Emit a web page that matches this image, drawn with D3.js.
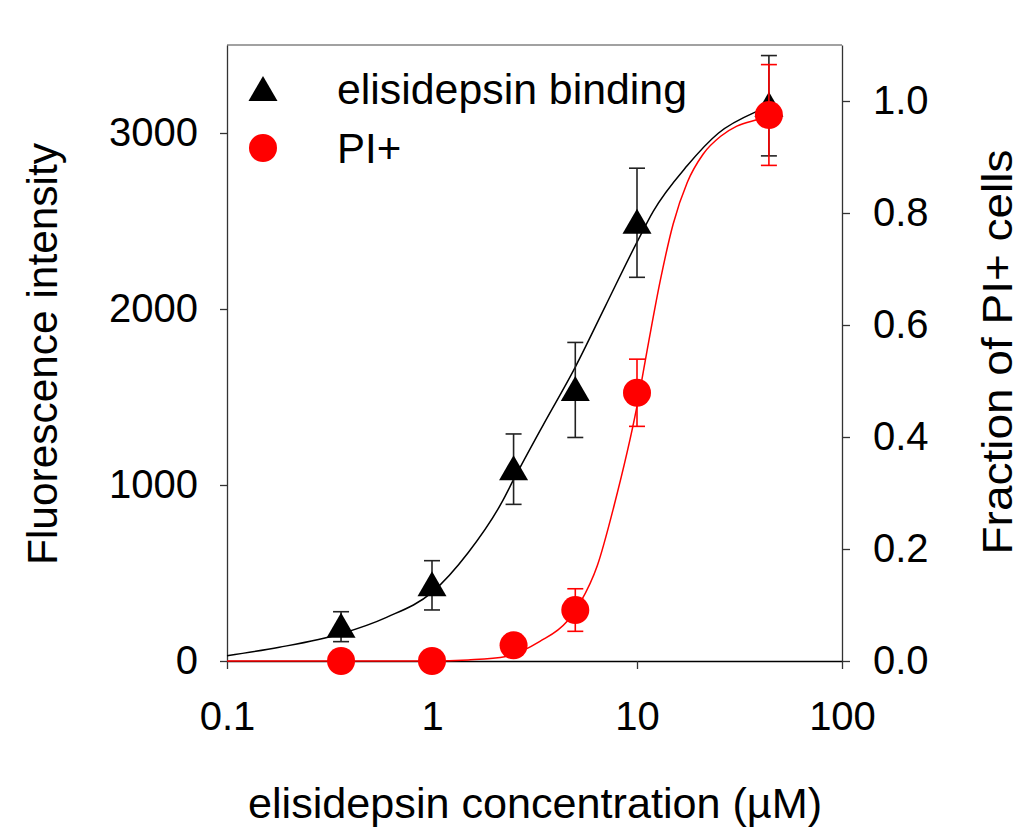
<!DOCTYPE html>
<html>
<head>
<meta charset="utf-8">
<script src="https://cdn.jsdelivr.net/npm/d3@7"></script>
<style>
  html, body { margin: 0; padding: 0; background: #ffffff; }
  svg { display: block; }
  text { font-family: "Liberation Sans", Arial, sans-serif; fill: #000; }
</style>
</head>
<body>
<svg id="chart" width="1024" height="832"></svg>
<script>
// ---- data ----
const concentrations = [0.36, 1, 2.5, 5, 10, 44];
const bindingMean = [195, 430, 1090, 1540, 2490, 3155];
const bindingErr = [85, 140, 200, 270, 310, 285];
const piFraction = [0, 0, 0.028, 0.091, 0.479, 0.975];
const piErr = [0, 0, 0, 0.038, 0.06, 0.09];

// fitted curves
const bindingFitX = [0.1, 0.18, 0.36, 0.6, 1.0, 1.5, 2.2, 2.5, 3.5, 5, 7, 10, 12, 17.6, 25, 38, 44];
const bindingFitY = [30, 78, 155, 248, 390, 615, 905, 1030, 1345, 1670, 2015, 2380, 2555, 2815, 3000, 3120, 3150];
const piFitX = [0.1, 1.0, 1.5, 2.3, 3.36, 4.54, 5.3, 6.4, 7.7, 10, 11.4, 13, 15, 17.6, 21, 25.6, 30.7, 38, 44];
const piFitY = [0, 0, 0.002, 0.008, 0.035, 0.07, 0.105, 0.17, 0.275, 0.455, 0.57, 0.68, 0.78, 0.855, 0.905, 0.937, 0.955, 0.966, 0.972];

const xTicks = [0.1, 1, 10, 100];
const xTickLabels = ["0.1", "1", "10", "100"];
const leftTicks = [0, 1000, 2000, 3000];
const rightTicks = [0, 0.2, 0.4, 0.6, 0.8, 1.0];

const xTitle = "elisidepsin concentration (µM)";
const leftTitle = "Fluorescence intensity";
const rightTitle = "Fraction of PI+ cells";
const legendLabels = ["elisidepsin binding", "PI+"];

// ---- layout ----
const L = 227, R = 842, T = 45, B = 661;
const FS = 42, TFS = 40;

const svg = d3.select("#chart");
const x = d3.scaleLog().domain([0.1, 100]).range([L, R]);
const yL = d3.scaleLinear().domain([0, 3500]).range([B, T]);
const yR = d3.scaleLinear().domain([0, 1.1]).range([B, T]);

// frame (top)
svg.append("line").attr("x1", L).attr("x2", R).attr("y1", T).attr("y2", T)
  .attr("stroke", "#444").attr("stroke-width", 1.2);

// left axis
const gL = svg.append("g").attr("transform", `translate(${L},0)`)
  .call(d3.axisLeft(yL).tickValues(leftTicks).tickSize(7).tickSizeOuter(0).tickPadding(22)
    .tickFormat(d3.format("d")));
// right axis
const gR = svg.append("g").attr("transform", `translate(${R},0)`)
  .call(d3.axisRight(yR).tickValues(rightTicks).tickSize(8).tickSizeOuter(0).tickPadding(23)
    .tickFormat(d3.format(".1f")));
// bottom axis
const gB = svg.append("g").attr("transform", `translate(0,${B})`)
  .call(d3.axisBottom(x).tickValues(xTicks).tickSize(8).tickSizeOuter(0).tickPadding(33)
    .tickFormat((d, i) => xTickLabels[i]));

[gL, gR, gB].forEach(g => {
  g.select(".domain").attr("stroke", "#333").attr("stroke-width", 1.3);
  g.selectAll(".tick line").attr("stroke", "#333").attr("stroke-width", 1.3);
  g.selectAll(".tick text").attr("font-size", TFS).attr("fill", "#000")
    .style("font-family", '"Liberation Sans", Arial, sans-serif');
});
gB.select(".domain").attr("stroke", "#000").attr("stroke-width", 1.6);

// axis titles
svg.append("text").attr("x", 535).attr("y", 818)
  .attr("text-anchor", "middle").attr("font-size", FS)
  .attr("textLength", 574).attr("lengthAdjust", "spacingAndGlyphs").text(xTitle);
svg.append("text").attr("transform", `translate(57,354) rotate(-90)`)
  .attr("text-anchor", "middle").attr("font-size", FS)
  .attr("textLength", 422).attr("lengthAdjust", "spacingAndGlyphs").text(leftTitle);
svg.append("text").attr("transform", `translate(1012,352) rotate(-90)`)
  .attr("text-anchor", "middle").attr("font-size", FS)
  .attr("textLength", 405).attr("lengthAdjust", "spacingAndGlyphs").text(rightTitle);

// ---- binding series (black) ----
const lineB = d3.line().x(d => x(d[0])).y(d => yL(d[1])).curve(d3.curveMonotoneX);
svg.append("path").datum(d3.zip(bindingFitX, bindingFitY)).attr("d", lineB)
  .attr("fill", "none").attr("stroke", "#000").attr("stroke-width", 1.5);

const capW = 8;
const bData = concentrations.map((c, i) => ({c, m: bindingMean[i], e: bindingErr[i]}));
const gEB = svg.append("g").attr("stroke", "#222").attr("stroke-width", 1.6);
bData.forEach(d => {
  const cx = x(d.c), y1 = yL(d.m + d.e), y2 = yL(d.m - d.e);
  gEB.append("line").attr("x1", cx).attr("x2", cx).attr("y1", y1).attr("y2", y2);
  gEB.append("line").attr("x1", cx - capW).attr("x2", cx + capW).attr("y1", y1).attr("y2", y1);
  gEB.append("line").attr("x1", cx - capW).attr("x2", cx + capW).attr("y1", y2).attr("y2", y2);
});
const tri = (cx, cy) => `M${cx},${cy - 14} L${cx + 14.5},${cy + 11} L${cx - 14.5},${cy + 11} Z`;
svg.append("g").selectAll("path").data(bData).join("path")
  .attr("d", d => tri(x(d.c), yL(d.m))).attr("fill", "#000");

// ---- PI+ series (red) ----
const lineP = d3.line().x(d => x(d[0])).y(d => yR(d[1])).curve(d3.curveMonotoneX);
svg.append("path").datum(d3.zip(piFitX, piFitY)).attr("d", lineP)
  .attr("fill", "none").attr("stroke", "#ff0000").attr("stroke-width", 1.5);

const pData = concentrations.map((c, i) => ({c, m: piFraction[i], e: piErr[i]}));
const gEP = svg.append("g").attr("stroke", "#ff0000").attr("stroke-width", 1.6);
pData.filter(d => d.e > 0).forEach(d => {
  const cx = x(d.c), y1 = yR(d.m + d.e), y2 = yR(d.m - d.e);
  gEP.append("line").attr("x1", cx).attr("x2", cx).attr("y1", y1).attr("y2", y2);
  gEP.append("line").attr("x1", cx - capW).attr("x2", cx + capW).attr("y1", y1).attr("y2", y1);
  gEP.append("line").attr("x1", cx - capW).attr("x2", cx + capW).attr("y1", y2).attr("y2", y2);
});
svg.append("g").selectAll("circle").data(pData).join("circle")
  .attr("cx", d => x(d.c)).attr("cy", d => yR(d.m)).attr("r", 14).attr("fill", "#ff0000");

// ---- legend ----
const lg = svg.append("g");
lg.append("path").attr("d", tri(263, 90)).attr("fill", "#000");
lg.append("circle").attr("cx", 263).attr("cy", 148).attr("r", 14).attr("fill", "#ff0000");
lg.append("text").attr("x", 337).attr("y", 104).attr("font-size", FS)
  .attr("textLength", 350).attr("lengthAdjust", "spacingAndGlyphs").text(legendLabels[0]);
lg.append("text").attr("x", 337).attr("y", 163).attr("font-size", FS).text(legendLabels[1]);
</script>
</body>
</html>
